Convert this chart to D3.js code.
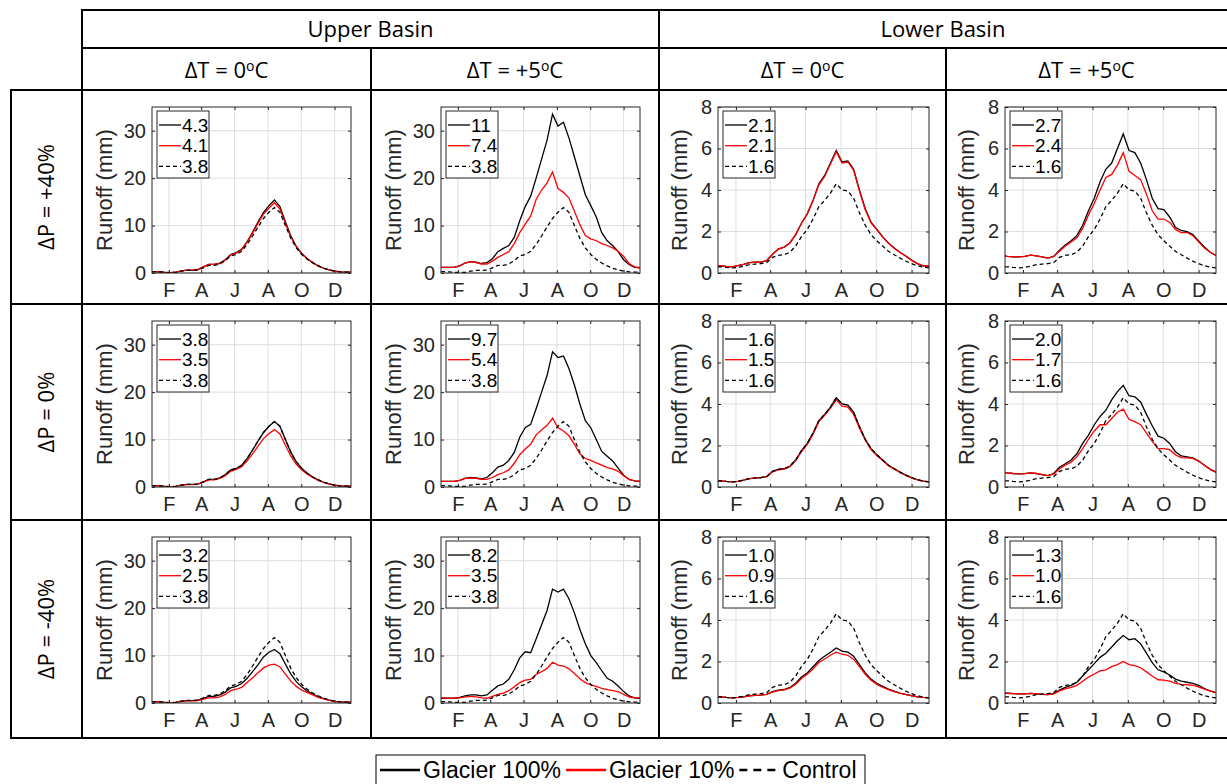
<!DOCTYPE html>
<html>
<head>
<meta charset="utf-8">
<script src="https://cdn.jsdelivr.net/npm/d3@7"></script>
<style>
  body { margin: 0; background: #fff; }
</style>
</head>
<body>
<script>
//------------------------------------------- Data ---------------------------------------------//
// day of year for every sample
var days = [1, 5, 15, 25, 35, 45, 55, 65, 75, 85,
  95, 105, 115, 125, 135, 145, 155, 165, 175, 185,
  195, 205, 215, 225, 235, 245, 255, 265, 275, 285,
  295, 305, 315, 325, 335, 345, 355, 365];

var monthTicks = [32, 91, 152, 213, 274, 335];
var monthLabels = ["F", "A", "J", "A", "O", "D"];
var upperTicks = [0, 10, 20, 30];
var lowerTicks = [0, 2, 4, 6, 8];

var basinLabels = ["Upper Basin", "Lower Basin"];
var tempLabels = ["0", "+5"];
var precipLabels = ["ΔP = +40%", "ΔP = 0%", "ΔP = -40%"];
var seriesNames = ["Glacier 100%", "Glacier 10%", "Control"];

// control runs (same in every panel of a basin)
var controlUpper = [0.3, 0.3, 0.25, 0.15, 0.1, 0.15, 0.4, 0.55, 0.55, 0.6,
  1.1, 1.6, 1.6, 1.9, 2.6, 3.6, 3.9, 4.6, 6.0, 7.8,
  9.7, 11.5, 12.8, 13.8, 12.8, 10.0, 7.3, 5.3, 3.9, 2.9,
  2.1, 1.5, 1.0, 0.65, 0.4, 0.25, 0.2, 0.2];
var controlLower = [0.3, 0.3, 0.27, 0.25, 0.27, 0.33, 0.4, 0.43, 0.45, 0.5,
  0.75, 0.85, 0.88, 1.0, 1.3, 1.75, 2.1, 2.6, 3.2, 3.5,
  3.85, 4.3, 4.0, 3.95, 3.6, 2.9, 2.3, 1.85, 1.55, 1.3,
  1.05, 0.88, 0.72, 0.57, 0.45, 0.35, 0.28, 0.25];

// Upper basin
var up40t0Full = [0.3, 0.3, 0.25, 0.15, 0.1, 0.2, 0.45, 0.6, 0.6, 0.7,
  1.3, 1.8, 1.8, 2.1, 2.8, 3.9, 4.3, 5.0, 6.6, 8.6,
  10.8, 12.8, 14.2, 15.4, 14.0, 10.8, 7.8, 5.6, 4.1, 3.0,
  2.2, 1.5, 1.0, 0.65, 0.4, 0.25, 0.2, 0.2];
var up40t0Ten = [0.3, 0.3, 0.25, 0.15, 0.1, 0.2, 0.45, 0.6, 0.6, 0.7,
  1.3, 1.8, 1.8, 2.0, 2.7, 3.8, 4.2, 4.9, 6.5, 8.4,
  10.5, 12.4, 13.7, 14.8, 13.5, 10.5, 7.6, 5.5, 4.0, 3.0,
  2.2, 1.5, 1.0, 0.65, 0.4, 0.25, 0.2, 0.2];
var up40t5Full = [1.2, 1.2, 1.2, 1.2, 1.5, 2.1, 2.4, 2.3, 2.0, 2.2,
  3.0, 4.5, 5.2, 5.8, 7.5, 11.0, 14.0, 16.2, 20.0, 24.0,
  28.0, 33.5, 31.0, 31.8, 28.5, 24.5, 20.5, 16.5, 14.2, 11.8,
  8.5, 6.8, 5.8, 4.5, 2.8, 1.8, 1.2, 1.1];
var up40t5Ten = [1.2, 1.2, 1.2, 1.2, 1.5, 2.1, 2.4, 2.2, 1.9, 1.9,
  2.5, 3.3, 3.9, 4.5, 6.2, 8.5, 10.3, 12.0, 15.5, 17.5,
  19.0, 21.3, 17.8, 17.0, 15.8, 13.0, 10.2, 7.9, 7.2, 6.8,
  6.2, 5.8, 5.3, 4.6, 3.5, 2.0, 1.3, 1.1];
var up0t0Full = controlUpper;
var up0t0Ten = [0.3, 0.3, 0.25, 0.15, 0.1, 0.15, 0.4, 0.5, 0.5, 0.6,
  1.0, 1.5, 1.5, 1.8, 2.4, 3.3, 3.7, 4.3, 5.5, 7.0,
  8.6, 10.2, 11.3, 12.1, 11.2, 8.8, 6.5, 4.8, 3.6, 2.7,
  2.0, 1.4, 0.95, 0.6, 0.4, 0.25, 0.2, 0.2];
var up0t5Full = [1.2, 1.2, 1.2, 1.2, 1.4, 1.8, 2.0, 1.9, 1.7, 2.0,
  3.0, 4.2, 4.6, 5.6, 7.3, 10.5, 12.5, 13.2, 16.5, 20.0,
  23.5, 28.5, 27.3, 27.6, 25.0, 21.5, 17.5, 14.0, 12.5, 10.0,
  7.5, 6.5, 5.5, 4.0, 2.5, 1.6, 1.3, 1.2];
var up0t5Ten = [1.2, 1.2, 1.2, 1.2, 1.4, 1.8, 1.9, 1.8, 1.6, 1.6,
  2.0, 2.6, 3.0, 3.6, 5.0, 6.8, 8.0, 9.0, 11.0, 12.0,
  13.0, 14.5, 12.5, 11.8, 10.8, 9.0, 7.0, 6.0, 5.6, 5.1,
  4.6, 4.1, 3.8, 3.3, 2.4, 1.6, 1.3, 1.2];
var upM40t0Full = [0.3, 0.3, 0.25, 0.15, 0.1, 0.15, 0.4, 0.5, 0.5, 0.6,
  1.0, 1.4, 1.4, 1.7, 2.3, 3.2, 3.5, 4.1, 5.2, 6.6,
  8.1, 9.7, 10.7, 11.3, 10.4, 8.2, 6.1, 4.5, 3.4, 2.5,
  1.9, 1.3, 0.9, 0.6, 0.35, 0.25, 0.2, 0.2];
var upM40t0Ten = [0.3, 0.3, 0.25, 0.15, 0.1, 0.15, 0.35, 0.45, 0.45, 0.5,
  0.8, 1.1, 1.1, 1.3, 1.8, 2.6, 2.9, 3.3, 4.3, 5.3,
  6.4, 7.4, 8.0, 8.2, 7.6, 6.1, 4.6, 3.5, 2.7, 2.2,
  1.7, 1.2, 0.85, 0.55, 0.35, 0.25, 0.2, 0.2];
var upM40t5Full = [1.0, 1.0, 1.0, 1.0, 1.2, 1.5, 1.7, 1.7, 1.5, 1.7,
  2.7, 3.6, 4.0, 5.0, 7.0, 9.5, 10.8, 10.6, 13.5, 16.5,
  19.5, 24.0, 23.4, 24.0, 22.0, 19.0, 15.5, 12.5, 10.0, 8.5,
  6.8, 5.2, 4.6, 3.6, 2.4, 1.5, 1.1, 1.0];
var upM40t5Ten = [1.1, 1.1, 1.0, 1.0, 1.1, 1.3, 1.4, 1.3, 1.1, 1.0,
  1.4, 1.8, 2.1, 2.6, 3.4, 4.3, 4.8, 5.0, 6.0, 6.6,
  7.3, 8.6, 8.0, 7.8, 7.2, 6.2, 5.1, 4.3, 3.8, 3.5,
  3.1, 2.8, 2.6, 2.4, 1.8, 1.3, 1.1, 1.1];

// Lower basin
var lo40t0Full = [0.35, 0.35, 0.32, 0.3, 0.35, 0.42, 0.5, 0.52, 0.52, 0.6,
  0.9, 1.15, 1.25, 1.45, 1.85, 2.4, 2.85, 3.5, 4.3, 4.7,
  5.3, 5.9, 5.35, 5.4, 5.0, 4.0, 3.1, 2.45, 2.1, 1.75,
  1.45, 1.2, 1.0, 0.82, 0.62, 0.45, 0.35, 0.33];
var lo40t0Ten = [0.35, 0.35, 0.32, 0.3, 0.35, 0.42, 0.5, 0.52, 0.52, 0.6,
  0.9, 1.15, 1.25, 1.45, 1.85, 2.4, 2.85, 3.5, 4.25, 4.65,
  5.25, 5.85, 5.3, 5.35, 4.95, 3.95, 3.05, 2.42, 2.08, 1.73,
  1.43, 1.19, 0.99, 0.81, 0.61, 0.45, 0.35, 0.33];
var lo40t5Full = [0.82, 0.8, 0.78, 0.78, 0.8, 0.86, 0.83, 0.78, 0.72, 0.8,
  1.1, 1.35, 1.55, 1.8, 2.3, 3.0, 3.6, 4.4, 5.0, 5.3,
  6.0, 6.7, 5.9, 5.8, 5.3, 4.5, 3.6, 3.1, 3.05, 2.7,
  2.2, 2.05, 2.0, 1.85, 1.55, 1.25, 1.0, 0.85];
var lo40t5Ten = [0.82, 0.8, 0.78, 0.78, 0.8, 0.86, 0.83, 0.78, 0.72, 0.8,
  1.05, 1.3, 1.5, 1.7, 2.15, 2.8, 3.35, 4.0, 4.6, 4.75,
  5.2, 5.8, 4.9, 4.7, 4.5, 3.8, 3.0, 2.6, 2.6, 2.45,
  2.1, 1.95, 1.95, 1.8, 1.5, 1.2, 1.0, 0.85];
var lo0t0Full = controlLower;
var lo0t0Ten = [0.3, 0.3, 0.27, 0.25, 0.27, 0.33, 0.4, 0.43, 0.45, 0.5,
  0.73, 0.83, 0.86, 0.98, 1.27, 1.7, 2.05, 2.55, 3.15, 3.45,
  3.8, 4.2, 3.9, 3.85, 3.5, 2.85, 2.25, 1.8, 1.52, 1.28,
  1.03, 0.86, 0.7, 0.56, 0.44, 0.34, 0.28, 0.25];
var lo0t5Full = [0.7, 0.68, 0.65, 0.63, 0.64, 0.68, 0.65, 0.6, 0.55, 0.65,
  0.95, 1.12, 1.3, 1.6, 2.1, 2.5, 3.0, 3.4, 3.7, 4.2,
  4.6, 4.9, 4.4, 4.35, 4.1, 3.5, 2.95, 2.45, 2.35, 2.1,
  1.7, 1.5, 1.45, 1.4, 1.25, 1.05, 0.85, 0.72];
var lo0t5Ten = [0.7, 0.68, 0.65, 0.63, 0.64, 0.68, 0.65, 0.6, 0.55, 0.62,
  0.88, 1.05, 1.2, 1.45, 1.85, 2.3, 2.7, 3.0, 3.0, 3.3,
  3.6, 3.75, 3.25, 3.15, 3.0, 2.6, 2.2, 1.85, 1.85, 1.8,
  1.55, 1.42, 1.4, 1.38, 1.25, 1.05, 0.85, 0.72];
var loM40t0Full = [0.3, 0.3, 0.27, 0.25, 0.27, 0.3, 0.35, 0.37, 0.38, 0.42,
  0.55, 0.62, 0.65, 0.75, 0.95, 1.25, 1.45, 1.75, 2.05, 2.25,
  2.45, 2.65, 2.5, 2.45, 2.25, 1.85, 1.45, 1.15, 0.95, 0.8,
  0.67, 0.57, 0.48, 0.42, 0.36, 0.3, 0.27, 0.25];
var loM40t0Ten = [0.3, 0.3, 0.27, 0.25, 0.27, 0.3, 0.35, 0.37, 0.38, 0.42,
  0.53, 0.6, 0.63, 0.72, 0.9, 1.18, 1.38, 1.65, 1.95, 2.12,
  2.3, 2.45, 2.35, 2.3, 2.1, 1.75, 1.38, 1.1, 0.9, 0.76,
  0.64, 0.55, 0.46, 0.4, 0.35, 0.3, 0.27, 0.25];
var loM40t5Full = [0.48, 0.47, 0.45, 0.44, 0.44, 0.46, 0.44, 0.42, 0.4, 0.45,
  0.62, 0.75, 0.85, 1.0, 1.3, 1.6, 1.9, 2.2, 2.4, 2.7,
  3.0, 3.25, 3.05, 3.1, 2.85, 2.4, 1.95, 1.6, 1.5, 1.35,
  1.15, 1.05, 1.0, 0.95, 0.85, 0.7, 0.58, 0.5];
var loM40t5Ten = [0.48, 0.47, 0.45, 0.44, 0.44, 0.46, 0.44, 0.42, 0.4, 0.44,
  0.58, 0.68, 0.75, 0.85, 1.05, 1.25, 1.4, 1.55, 1.6, 1.75,
  1.85, 2.0, 1.85, 1.8, 1.7, 1.5, 1.3, 1.12, 1.1, 1.05,
  0.95, 0.9, 0.88, 0.85, 0.78, 0.67, 0.57, 0.5];

// legend numbers in each panel [row][col] -> [100%, 10%, control]
var legendValues = [
  [["4.3", "4.1", "3.8"], ["11", "7.4", "3.8"], ["2.1", "2.1", "1.6"], ["2.7", "2.4", "1.6"]],
  [["3.8", "3.5", "3.8"], ["9.7", "5.4", "3.8"], ["1.6", "1.5", "1.6"], ["2.0", "1.7", "1.6"]],
  [["3.2", "2.5", "3.8"], ["8.2", "3.5", "3.8"], ["1.0", "0.9", "1.6"], ["1.3", "1.0", "1.6"]]
];

var panelSeries = [
  [[up40t0Full, up40t0Ten, controlUpper], [up40t5Full, up40t5Ten, controlUpper],
   [lo40t0Full, lo40t0Ten, controlLower], [lo40t5Full, lo40t5Ten, controlLower]],
  [[up0t0Full, up0t0Ten, controlUpper], [up0t5Full, up0t5Ten, controlUpper],
   [lo0t0Full, lo0t0Ten, controlLower], [lo0t5Full, lo0t5Ten, controlLower]],
  [[upM40t0Full, upM40t0Ten, controlUpper], [upM40t5Full, upM40t5Ten, controlUpper],
   [loM40t0Full, loM40t0Ten, controlLower], [loM40t5Full, loM40t5Ten, controlLower]]
];

//------------------------------------------- Layout ---------------------------------------------//
var width = 1227,
  height = 784;
var colX = [82, 371, 659, 946],
  colRight = 1227;
var rowY = [90, 304, 520],
  rowBottom = 738;

var lineColors = ["#000000", "#ff0000", "#000000"];
var lineDash = [null, null, "4,3"];
var axisFont = "'Liberation Sans', Arial, Helvetica, sans-serif";
var headFont = "'Open Sans', 'Noto Sans', sans-serif";
var axisColor = "#262626";

var svg = d3
  .select("body")
  .append("svg")
  .attr("width", width)
  .attr("height", height);

//------------------------------------------- Table ---------------------------------------------//
var table = svg.append("g").attr("stroke", "#000").attr("stroke-width", 2);

function hline(x1, x2, y) {
  table.append("line").attr("x1", x1).attr("x2", x2).attr("y1", y).attr("y2", y);
}
function vline(x, y1, y2) {
  table.append("line").attr("x1", x).attr("x2", x).attr("y1", y1).attr("y2", y2);
}

hline(colX[0] - 1, colRight, 10);
hline(colX[0] - 1, colRight, 48);
rowY.concat([rowBottom]).forEach(function (y) {
  hline(10, colRight, y);
});
vline(11, rowY[0] - 1, rowBottom + 1);
vline(colX[0], 9, rowBottom + 1);
vline(colX[2], 9, rowBottom + 1);
vline(colX[1], 48, rowBottom + 1);
vline(colX[3], 48, rowBottom + 1);

// basin headers
basinLabels.forEach(function (lab, i) {
  var xa = colX[i * 2],
    xb = i === 0 ? colX[2] : colRight;
  svg
    .append("text")
    .attr("x", (xa + xb) / 2)
    .attr("y", 29)
    .attr("dy", "0.35em")
    .attr("text-anchor", "middle")
    .style("font-family", headFont)
    .style("font-size", "22px")
    .text(lab);
});

// temperature headers
for (var c = 0; c < 4; c++) {
  var xa = colX[c],
    xb = c < 3 ? colX[c + 1] : colRight;
  var t = svg
    .append("text")
    .attr("x", (xa + xb) / 2)
    .attr("y", 70)
    .attr("dy", "0.35em")
    .attr("text-anchor", "middle")
    .style("font-family", headFont)
    .style("font-size", "22px");
  t.append("tspan").text("ΔT = " + tempLabels[c % 2]);
  t.append("tspan").attr("dy", -7).style("font-size", "14px").text("o");
  t.append("tspan").attr("dy", 7).text("C");
}

// precipitation row labels
precipLabels.forEach(function (lab, r) {
  var yb = r < 2 ? rowY[r + 1] : rowBottom;
  var cy = (rowY[r] + yb) / 2;
  svg
    .append("text")
    .attr("transform", "translate(46," + cy + ") rotate(-90)")
    .attr("dy", "0.35em")
    .attr("text-anchor", "middle")
    .style("font-family", headFont)
    .style("font-size", "22px")
    .text(lab);
});

//------------------------------------------- Panels ---------------------------------------------//
function drawPanel(r, c) {
  var upper = c < 2;
  var x0 = colX[c] + (upper ? 70 : 59);
  var pw = upper ? 199 : 211;
  var y0 = rowY[r] + 17,
    y1 = rowY[r] + 183;

  var x = d3.scaleLinear().domain([1, 365]).range([x0, x0 + pw]);
  var y = d3
    .scaleLinear()
    .domain([0, upper ? 35 : 8])
    .range([y1, y0]);
  var yTicks = upper ? upperTicks : lowerTicks;

  var g = svg.append("g");

  // grid
  g.append("g")
    .selectAll("line")
    .data(monthTicks)
    .enter()
    .append("line")
    .attr("x1", (d) => x(d))
    .attr("x2", (d) => x(d))
    .attr("y1", y0)
    .attr("y2", y1)
    .attr("stroke", "#dedede")
    .attr("stroke-width", 1);
  g.append("g")
    .selectAll("line")
    .data(yTicks)
    .enter()
    .append("line")
    .attr("x1", x0)
    .attr("x2", x0 + pw)
    .attr("y1", (d) => y(d))
    .attr("y2", (d) => y(d))
    .attr("stroke", "#dedede")
    .attr("stroke-width", 1);

  // axes
  var xAxis = g
    .append("g")
    .attr("transform", "translate(0," + y1 + ")")
    .call(
      d3
        .axisBottom(x)
        .tickValues(monthTicks)
        .tickSize(-3)
        .tickPadding(10)
        .tickFormat((d, i) => monthLabels[i])
    );
  var yAxis = g
    .append("g")
    .attr("transform", "translate(" + x0 + ",0)")
    .call(d3.axisLeft(y).tickValues(yTicks).tickSize(-3).tickPadding(6));
  g.append("g")
    .attr("transform", "translate(0," + y0 + ")")
    .call(d3.axisTop(x).tickValues(monthTicks).tickSize(-3).tickFormat(""));
  g.append("g")
    .attr("transform", "translate(" + (x0 + pw) + ",0)")
    .call(d3.axisRight(y).tickValues(yTicks).tickSize(-3).tickFormat(""));

  g.selectAll(".domain").remove();
  g.selectAll(".tick line").attr("stroke", axisColor);
  [xAxis, yAxis].forEach(function (a) {
    a.selectAll("text")
      .style("font-family", axisFont)
      .style("font-size", "20px")
      .attr("fill", axisColor);
  });

  // y label
  g.append("text")
    .attr("transform", "translate(" + (x0 - (upper ? 40 : 31)) + "," + (y0 + y1) / 2 + ") rotate(-90)")
    .attr("text-anchor", "middle")
    .style("font-family", axisFont)
    .style("font-size", "22px")
    .attr("fill", axisColor)
    .text("Runoff (mm)");

  // lines
  var clipId = "clip" + r + c;
  g.append("clipPath")
    .attr("id", clipId)
    .append("rect")
    .attr("x", x0)
    .attr("y", y0)
    .attr("width", pw)
    .attr("height", y1 - y0);

  var line = d3
    .line()
    .x((d, i) => x(days[i]))
    .y((d) => y(d));

  panelSeries[r][c].forEach(function (vals, k) {
    g.append("path")
      .datum(vals)
      .attr("clip-path", "url(#" + clipId + ")")
      .attr("d", line)
      .attr("fill", "none")
      .attr("stroke", lineColors[k])
      .attr("stroke-width", 1.3)
      .attr("stroke-dasharray", lineDash[k]);
  });

  // box
  g.append("rect")
    .attr("x", x0)
    .attr("y", y0)
    .attr("width", pw)
    .attr("height", y1 - y0)
    .attr("fill", "none")
    .attr("stroke", axisColor)
    .attr("stroke-width", 1);

  // legend
  var bx = x0 + 5,
    by = y0 + 4;
  var lg = g.append("g");
  lg.append("rect")
    .attr("x", bx)
    .attr("y", by)
    .attr("width", 52)
    .attr("height", 67)
    .attr("fill", "#fff")
    .attr("stroke", axisColor)
    .attr("stroke-width", 1);
  legendValues[r][c].forEach(function (lab, k) {
    var ly = by + 14 + k * 20.7;
    lg.append("line")
      .attr("x1", bx + 2)
      .attr("x2", bx + 24)
      .attr("y1", ly)
      .attr("y2", ly)
      .attr("stroke", lineColors[k])
      .attr("stroke-width", 1.3)
      .attr("stroke-dasharray", lineDash[k]);
    lg.append("text")
      .attr("x", bx + 25)
      .attr("y", ly)
      .attr("dy", "0.35em")
      .style("font-family", axisFont)
      .style("font-size", "19px")
      .attr("fill", "#000")
      .text(lab);
  });
}

for (var r = 0; r < 3; r++) {
  for (var cc = 0; cc < 4; cc++) {
    drawPanel(r, cc);
  }
}

//------------------------------------------- Bottom legend ---------------------------------------------//
var bl = svg.append("g");
bl.append("rect")
  .attr("x", 376)
  .attr("y", 755)
  .attr("width", 489)
  .attr("height", 40)
  .attr("fill", "#fff")
  .attr("stroke", "#000")
  .attr("stroke-width", 1);

// place entries one after the other, measuring each label
var cursor = 380;
seriesNames.forEach(function (name, k) {
  var len = k === 2 ? 40 : 40;
  bl.append("line")
    .attr("x1", cursor)
    .attr("x2", cursor + len)
    .attr("y1", 770)
    .attr("y2", 770)
    .attr("stroke", lineColors[k])
    .attr("stroke-width", 2.5)
    .attr("stroke-dasharray", k === 2 ? "8,6" : null);
  var txt = bl
    .append("text")
    .attr("x", cursor + len + 3)
    .attr("y", 770)
    .attr("dy", "0.35em")
    .style("font-family", axisFont)
    .style("font-size", "23px")
    .attr("fill", "#000")
    .text(name);
  cursor = cursor + len + 3 + txt.node().getComputedTextLength() + 5;
});
</script>
</body>
</html>
